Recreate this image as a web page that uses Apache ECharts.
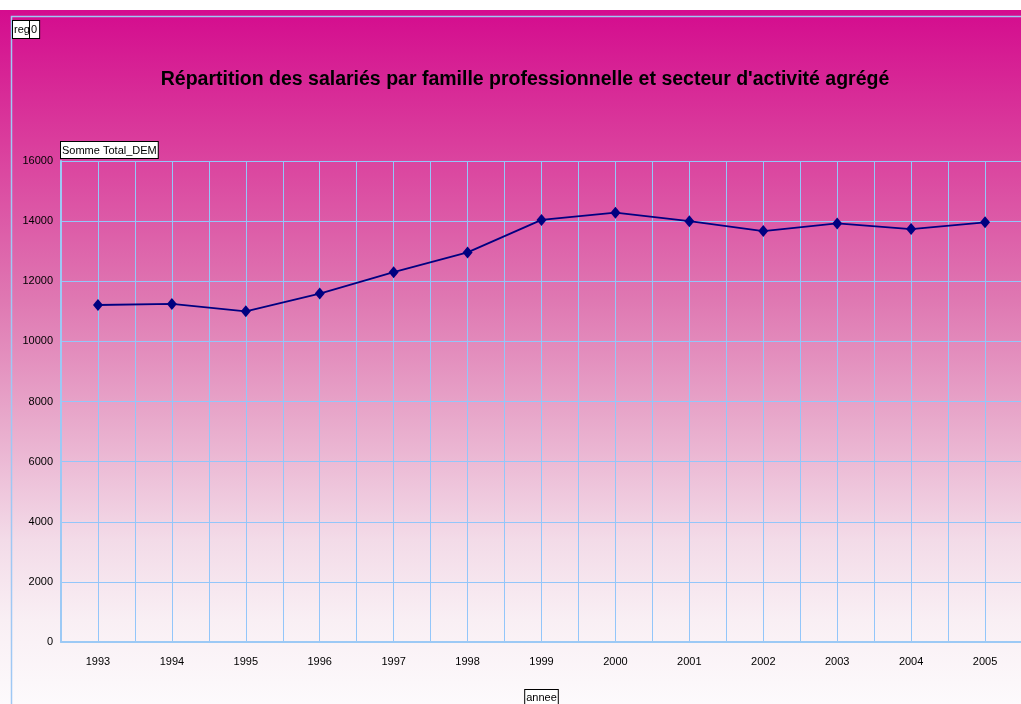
<!DOCTYPE html>
<html>
<head>
<meta charset="utf-8">
<script src="https://cdn.jsdelivr.net/npm/echarts@6/dist/echarts.min.js"></script>
<style>
  html, body { margin: 0; padding: 0; background: #fff; }
  #main {
    width: 1021px; height: 704px;
    background: linear-gradient(to bottom, #ffffff 0px, #ffffff 10px, #d40c8e 10px,
      #da3c9c 140px, #df78b2 300px, #e8a9cb 420px, #f3dbe8 540px, #f9eff4 620px, #fdfafc 704px);
  }
</style>
</head>
<body>
<div id="main"></div>
<script>
const years = ["1993", "1994", "1995", "1996", "1997", "1998", "1999", "2000", "2001", "2002", "2003", "2004", "2005"];
const sommeTotalDem = [11210, 11245, 11000, 11590, 12300, 12960, 14040, 14280, 14000, 13670, 13925, 13735, 13960];
const yTicks = [0, 16000, 2000]; // min, max, interval

const chart = echarts.init(document.getElementById("main"));
const font = "'Liberation Sans', Arial, sans-serif";
const gridBlue = "#93c6fa";

chart.setOption({
  backgroundColor: "transparent",
  textStyle: { fontFamily: font },
  title: {
    text: "Répartition des salariés par famille professionnelle et secteur d'activité agrégé",
    left: 520,
    textAlign: "center",
    top: 65,
    textStyle: { fontSize: 19.5, fontWeight: "bold", color: "#000", fontFamily: font },
  },
  graphic: [
    {
      type: "rect",
      silent: true,
      shape: { x: 11.5, y: 16.5, width: 1030, height: 700 },
      style: { fill: "none", stroke: "#9fc8f4", lineWidth: 1.5 },
    },
    {
      type: "text",
      left: 12, top: 20,
      style: {
        text: "reg", fontSize: 11, fontFamily: font, fill: "#000",
        backgroundColor: "#fff", borderColor: "#000", borderWidth: 1, padding: [3, 1, 3, 1],
      },
    },
    {
      type: "text",
      left: 29, top: 20,
      style: {
        text: "0", fontSize: 11, fontFamily: font, fill: "#000",
        backgroundColor: "#fff", borderColor: "#000", borderWidth: 1, padding: [3, 2, 3, 1],
      },
    },
  ],
  grid: { left: 61, top: 161, right: -1, bottom: 62, containLabel: false, outerBoundsMode: "none" },
  xAxis: [
    {
      type: "category",
      data: years,
      boundaryGap: true,
      name: "annee",
      nameLocation: "middle",
      nameGap: 48,
      nameTextStyle: {
        fontSize: 11, color: "#000", backgroundColor: "#fff",
        borderColor: "#000", borderWidth: 1, padding: [2, 1, 1, 1],
      },
      axisLine: { lineStyle: { color: "#9cc9f5", width: 2 } },
      axisTick: { show: false },
      splitLine: { show: false },
      axisLabel: { color: "#000", fontSize: 11, margin: 14 },
    },
    {
      type: "value",
      min: 0,
      max: 13,
      interval: 0.5,
      show: true,
      axisLine: { show: false },
      axisTick: { show: false },
      axisLabel: { show: false },
      splitLine: { show: true, lineStyle: { color: gridBlue, width: 1 } },
    },
  ],
  yAxis: {
    type: "value",
    min: yTicks[0],
    max: yTicks[1],
    interval: yTicks[2],
    name: "Somme Total_DEM",
    nameLocation: "end",
    nameGap: 3,
    nameTextStyle: {
      align: "left", verticalAlign: "bottom", fontSize: 11, color: "#000",
      backgroundColor: "#fff", borderColor: "#000", borderWidth: 1, padding: [3, 1, 2, 1],
    },
    axisLine: { show: true, lineStyle: { color: "#9cc9f5", width: 2 } },
    axisTick: { show: false },
    axisLabel: { color: "#000", fontSize: 11, margin: 8, formatter: (v) => String(v) },
    splitLine: { show: true, lineStyle: { color: gridBlue, width: 1 } },
  },
  series: [
    {
      name: "Somme Total_DEM",
      type: "line",
      data: sommeTotalDem,
      symbol: "diamond",
      symbolSize: [10, 12],
      lineStyle: { color: "#000080", width: 1.8 },
      itemStyle: { color: "#000080" },
      z: 5,
    },
  ],
});
</script>
</body>
</html>
